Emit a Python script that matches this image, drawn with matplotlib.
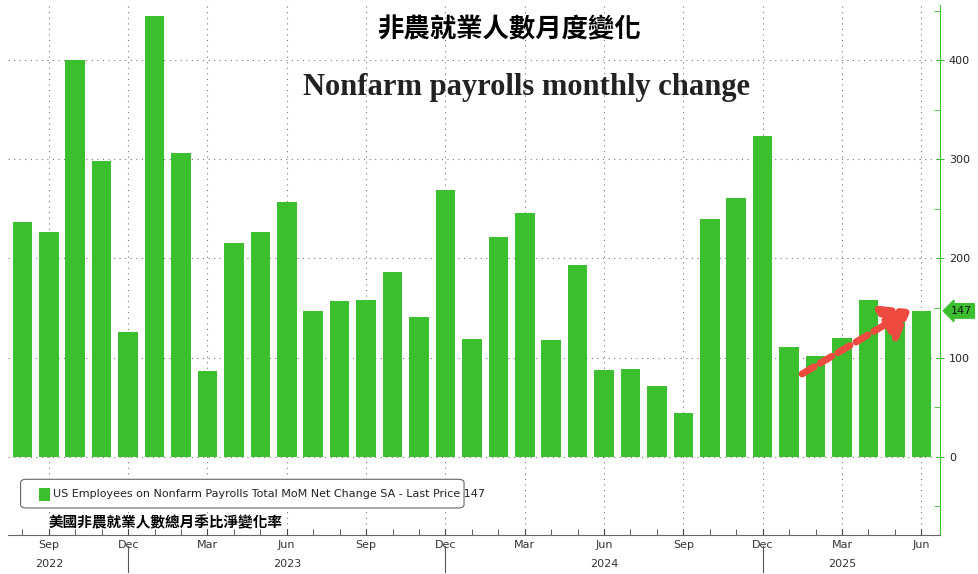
import matplotlib
matplotlib.use("Agg")
import matplotlib.pyplot as plt
import numpy as np
from matplotlib.patches import FancyArrowPatch

months = ["Aug","Sep","Oct","Nov","Dec"] + ["Jan","Feb","Mar","Apr","May","Jun","Jul","Aug","Sep","Oct","Nov","Dec"]*2 + ["Jan","Feb","Mar","Apr","May","Jun"]
values = [237,227,400,298,126, 444,306,86,216,227,257,147,157,158,186,141,269,
          119,222,246,118,193,87,88,71,44,240,261,323, 111,102,120,158,144,147]
tick_labels = ["Sep","Dec","Mar","Jun","Sep","Dec","Mar","Jun","Sep","Dec","Mar","Jun"]
tick_idx = [1,4,7,10,13,16,19,22,25,28,31,34]
years = ["2022","2023","2024","2025"]
year_pos = [1,10,22,31]
green = "#3bbf2f"

fig = plt.figure(figsize=(9.79,5.74), dpi=100)
ax = fig.add_axes([0.008, 0.068, 0.952, 0.924])
x = np.arange(len(values))
ax.bar(x, values, width=0.74, color=green, zorder=3)
ax.set_xlim(-0.55, len(values)-0.3)
ax.set_ylim(-79, 456)
ax.yaxis.tick_right()
ax.set_yticks([0,100,200,300,400])
ax.set_yticks([-50,50,150,250,350,450], minor=True)
ax.tick_params(axis="y", colors=green, labelcolor="#222", labelsize=8, direction="inout", length=6)
ax.tick_params(axis="y", which="minor", colors=green, length=4, direction="in")
ax.set_xticks(tick_idx)
ax.set_xticklabels(tick_labels, fontsize=8, color="#333")
ax.set_xticks(x, minor=True)
ax.tick_params(axis="x", which="both", direction="in", length=4, colors="#444", labelcolor="#333")
for s in ["top","left"]:
    ax.spines[s].set_visible(False)
ax.spines["right"].set_color(green)
ax.spines["bottom"].set_color("#666")
ax.grid(axis="both", linestyle=(0,(1,4)), color="#777", linewidth=0.8, zorder=0)
for xi, yr in zip(year_pos, years):
    ax.text(xi, -0.045, yr, transform=ax.get_xaxis_transform(), ha="center", va="top", fontsize=8, color="#333")
for xb in [4.0, 16.0, 28.0]:
    ax.plot([xb, xb], [-0.02, -0.07], transform=ax.get_xaxis_transform(), color="#555", lw=0.8, clip_on=False)
# last value label
ax.annotate("147", xy=(1.0, 147), xycoords=("axes fraction","data"), xytext=(8,0), textcoords="offset points",
            va="center", fontsize=8, color="#111",
            bbox=dict(boxstyle="larrow,pad=0.2", fc=green, ec=green))
# arrow
arr = FancyArrowPatch((29.4, 82), (33.7, 150), arrowstyle="-|>,head_length=8,head_width=6",
                      color="#ee4a3f", lw=5, linestyle=(0,(2,1)), mutation_scale=2, zorder=5)
ax.add_patch(arr)
# titles
fig.text(0.52, 0.935, "非農就業人數月度變化", fontfamily="Noto Sans CJK TC", fontweight="bold", fontsize=19, ha="center")
fig.text(0.538, 0.835, "Nonfarm payrolls monthly change", fontfamily="Liberation Serif", fontweight="bold", fontsize=22, ha="center", color="#222")
# legend
fig.patches.append(matplotlib.patches.FancyBboxPatch((0.024,0.118),0.447,0.044, boxstyle="round,pad=0.003,rounding_size=0.006",
                   transform=fig.transFigure, fc="white", ec="#666", lw=0.8, zorder=10))
fig.patches.append(matplotlib.patches.Rectangle((0.040,0.128),0.011,0.022, transform=fig.transFigure, fc=green, ec="none", zorder=11))
fig.text(0.054, 0.140, "US Employees on Nonfarm Payrolls Total MoM Net Change SA - Last Price 147", fontsize=8, va="center", color="#222", zorder=12)
fig.text(0.050, 0.090, "美國非農就業人數總月季比淨變化率", fontfamily="Noto Sans CJK TC", fontweight="bold", fontsize=10.5, va="center")
fig.savefig("out.png", dpi=100)
